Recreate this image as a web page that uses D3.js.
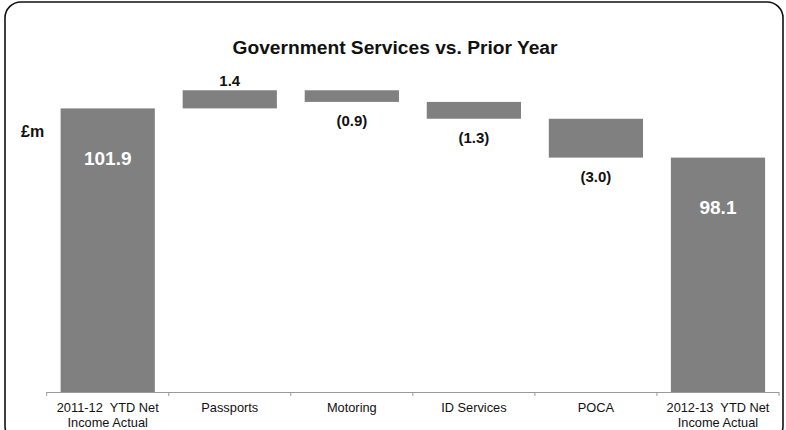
<!DOCTYPE html>
<html>
<head>
<meta charset="utf-8">
<script src="https://cdn.jsdelivr.net/npm/d3@7"></script>
<style>
  html, body { margin: 0; padding: 0; background: #fff; }
  svg { display: block; font-family: "Liberation Sans", Arial, sans-serif; }
</style>
</head>
<body>
<svg id="chart" width="786" height="430"></svg>
<script>
// Waterfall: opening total, movements, closing total (£m)
const categories = ["2011-12  YTD Net\nIncome Actual", "Passports", "Motoring", "ID Services", "POCA", "2012-13  YTD Net\nIncome Actual"];
const kinds = ["total", "delta", "delta", "delta", "delta", "total"];
const values = [101.9, 1.4, -0.9, -1.3, -3.0, 98.1];
const yDomain = [80, 104];

const svg = d3.select("#chart");

// rounded frame
svg.append("rect")
  .attr("x", 5).attr("y", 2)
  .attr("width", 778).attr("height", 440)
  .attr("rx", 16).attr("ry", 16)
  .attr("fill", "#fff").attr("stroke", "#111").attr("stroke-width", 1.6);

const x = d3.scaleBand().domain(categories).range([46.7, 779]).padding(0);
const y = d3.scaleLinear().domain(yDomain).range([392, 392 - 24 * 12.95]);

// compute waterfall segments
let running = 0;
const bars = categories.map((c, i) => {
  let lo, hi;
  if (kinds[i] === "total") {
    lo = yDomain[0]; hi = values[i]; running = values[i];
  } else {
    const start = running, end = running + values[i];
    lo = Math.min(start, end); hi = Math.max(start, end); running = end;
  }
  return { cat: c, kind: kinds[i], value: values[i], lo, hi };
});

const barW = x.bandwidth() * 0.772;
svg.append("g").selectAll("rect").data(bars).join("rect")
  .attr("x", d => x(d.cat) + (x.bandwidth() - barW) / 2)
  .attr("y", d => y(d.hi))
  .attr("width", barW)
  .attr("height", d => y(d.lo) - y(d.hi))
  .attr("fill", "#808080");

const fmt = v => v < 0 ? "(" + Math.abs(v).toFixed(1) + ")" : v.toFixed(1);

// value labels
svg.append("g").selectAll("text").data(bars).join("text")
  .attr("x", d => x(d.cat) + x.bandwidth() / 2)
  .attr("y", d => d.kind === "total" ? y(d.hi) + 50 : (d.value >= 0 ? y(d.hi) - 10 : y(d.lo) + 19))
  .attr("text-anchor", "middle")
  .attr("dominant-baseline", "central")
  .attr("font-weight", "bold")
  .attr("font-size", d => d.kind === "total" ? 19 : 15)
  .attr("fill", d => d.kind === "total" ? "#fff" : "#111")
  .text(d => fmt(d.value));

// x axis: line with ticks at category boundaries
const axis = d3.axisBottom(x).tickSize(0).tickFormat("");
const gx = svg.append("g").attr("transform", "translate(0,392)").call(axis);
gx.select(".domain").attr("stroke", "#999").attr("stroke-width", 1).attr("d", `M${x.range()[0]},0.5H${x.range()[1]}`);
const bounds = categories.map(c => x(c)).concat([x.range()[1]]);
gx.selectAll(".bnd").data(bounds).join("line").attr("class", "bnd")
  .attr("x1", d => d).attr("x2", d => d)
  .attr("y1", 0).attr("y2", 4)
  .attr("stroke", "#999");

// category labels
const lbl = svg.append("g").selectAll("text").data(categories).join("text")
  .attr("x", d => x(d) + x.bandwidth() / 2)
  .attr("y", 407)
  .attr("text-anchor", "middle")
  .attr("dominant-baseline", "central")
  .attr("font-size", 12.8)
  .attr("fill", "#111")
  .style("white-space", "pre");
lbl.each(function(d) {
  const lines = d.split("\n");
  d3.select(this).selectAll("tspan").data(lines).join("tspan")
    .attr("x", x(d) + x.bandwidth() / 2)
    .attr("dy", (l, i) => i === 0 ? 0 : 15)
    .text(l => l);
});

// title and unit
svg.append("text")
  .attr("x", 395).attr("y", 47)
  .attr("text-anchor", "middle").attr("dominant-baseline", "central")
  .attr("font-weight", "bold").attr("font-size", 19.2).attr("fill", "#111")
  .text("Government Services vs. Prior Year");

svg.append("text")
  .attr("x", 21).attr("y", 131)
  .attr("dominant-baseline", "central")
  .attr("font-weight", "bold").attr("font-size", 16).attr("fill", "#111")
  .text("£m");
</script>
</body>
</html>
